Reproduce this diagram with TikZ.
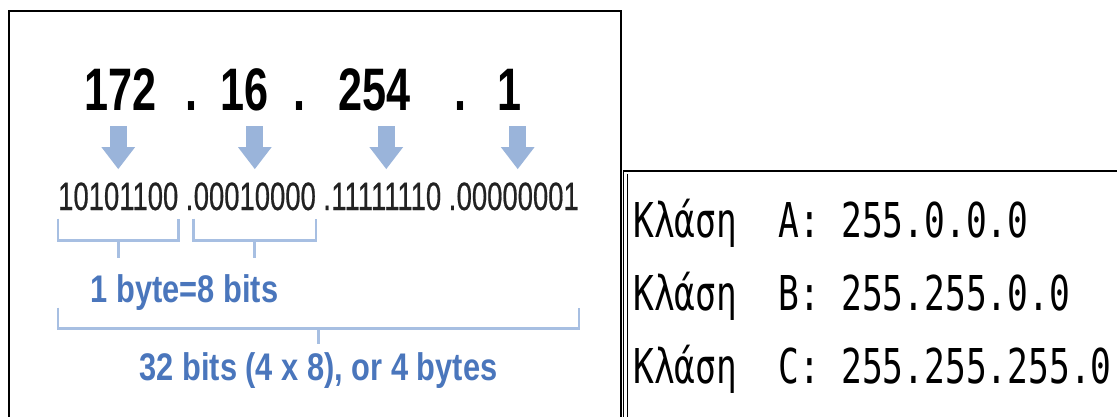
\documentclass[tikz,border=0pt]{standalone}
\usepackage{fontspec}
\usetikzlibrary{arrows.meta,calc}
\newfontfamily\numfont[FakeStretch=0.72]{Liberation Sans}
\newfontfamily\binfont[FakeStretch=0.695,FakeBold=0.5]{Liberation Sans}
\newfontfamily\lblfont[FakeStretch=0.8]{Liberation Sans}
\newfontfamily\clsfont[FakeStretch=0.72]{DejaVu Sans Mono}
\definecolor{arrowblue}{HTML}{9AB4DA}
\definecolor{brkblue}{HTML}{A7BFE2}
\definecolor{lblblue}{HTML}{4A76BC}
\definecolor{bintext}{HTML}{222222}

\begin{document}
\begin{tikzpicture}
[x=1pt, y=-1pt,
every node/.style={inner sep=0pt, anchor=base},
num/.style={font=\numfont\bfseries\fontsize{60}{60}\selectfont},
bin/.style={font=\binfont\fontsize{39.5}{40}\selectfont, text=bintext, anchor=base west},
lbl/.style={font=\lblfont\bfseries\fontsize{38.5}{38}\selectfont, text=lblblue},
cls/.style={font=\clsfont\fontsize{48}{48}\selectfont, anchor=base west},
brk/.style={draw=brkblue, line width=2.8pt},
blockarrow/.style={draw=arrowblue, line width=17pt, -{Triangle[width=32pt,length=22pt]}},
frame/.style={draw=black, line width=1.5pt}]
\useasboundingbox (0,0) rectangle (1117,416);
\fill[white] (0,0) rectangle (1117,416);

% left box
\draw[frame] (9,417) |- (621,11) -- (621,417);

% dotted decimal
\node[num] (n1) at (120.5,110) {172};
\node[num] (d1) at (191,110) {.};
\node[num] (n2) at (245,110) {16};
\node[num] (d2) at (299,110) {.};
\node[num] (n3) at (374.5,110) {254};
\node[num] (d3) at (460,110) {.};
\node[num] (n4) at (510,110) {1};

% binary
\node[bin] (b1) at (58,210) {10101100};
\node[bin] (p1) at ([xshift=7pt]b1.base east) {.};
\node[bin] (b2) at (p1.base east) {00010000};
\node[bin] (p2) at ([xshift=7pt]b2.base east) {.};
\node[bin] (b3) at (p2.base east) {11111110};
\node[bin] (p3) at ([xshift=7pt]b3.base east) {.};
\node[bin] (b4) at (p3.base east) {00000001};

% arrows
\draw[blockarrow] (b1.north |- 0,126) -- ([yshift=13pt]b1.north);
\draw[blockarrow] (b2.north |- 0,126) -- ([yshift=13pt]b2.north);
\draw[blockarrow] (b3.north |- 0,126) -- ([yshift=13pt]b3.north);
\draw[blockarrow] (b4.north |- 0,126) -- ([yshift=13pt]b4.north);

% byte brackets
\draw[brk] ([yshift=-8pt]b1.south west) |- ([yshift=-30pt]b1.south) -| ([yshift=-8pt]b1.south east);
\draw[brk] ([yshift=-30pt]b1.south) -- ([yshift=-47pt]b1.south);
\draw[brk] ([yshift=-8pt]b2.south west) |- ([yshift=-30pt]b2.south) -| ([yshift=-8pt]b2.south east);
\draw[brk] ([yshift=-30pt]b2.south) -- ([yshift=-47pt]b2.south);
\node[lbl] (byte) at (184.5,302) {1 byte=8 bits};

% whole address bracket
\coordinate (mid) at ($(b1.south west)!0.5!(b4.south east)$);
\draw[brk] ([yshift=-97pt]b1.south west) |- ([yshift=-118pt]mid) -| ([yshift=-97pt]b4.south east);
\draw[brk] ([yshift=-118pt]mid) -- ([yshift=-133pt]mid);
\node[lbl] (total) at ([yshift=-170pt]mid) {32 bits (4 x 8), or 4 bytes};

% right box
\draw[frame] (623.5,417) -- (623.5,171) -- (1118,171);
\draw[line width=1pt] (627,417) -- (627,174);

% default masks
\node[cls] (clsA) at (633,237) {Κλάση\ \ A: 255.0.0.0};
\node[cls] (clsB) at (633,310) {Κλάση\ \ B: 255.255.0.0};
\node[cls] (clsC) at (633,383) {Κλάση\ \ C: 255.255.255.0};
\end{tikzpicture}
\end{document}
